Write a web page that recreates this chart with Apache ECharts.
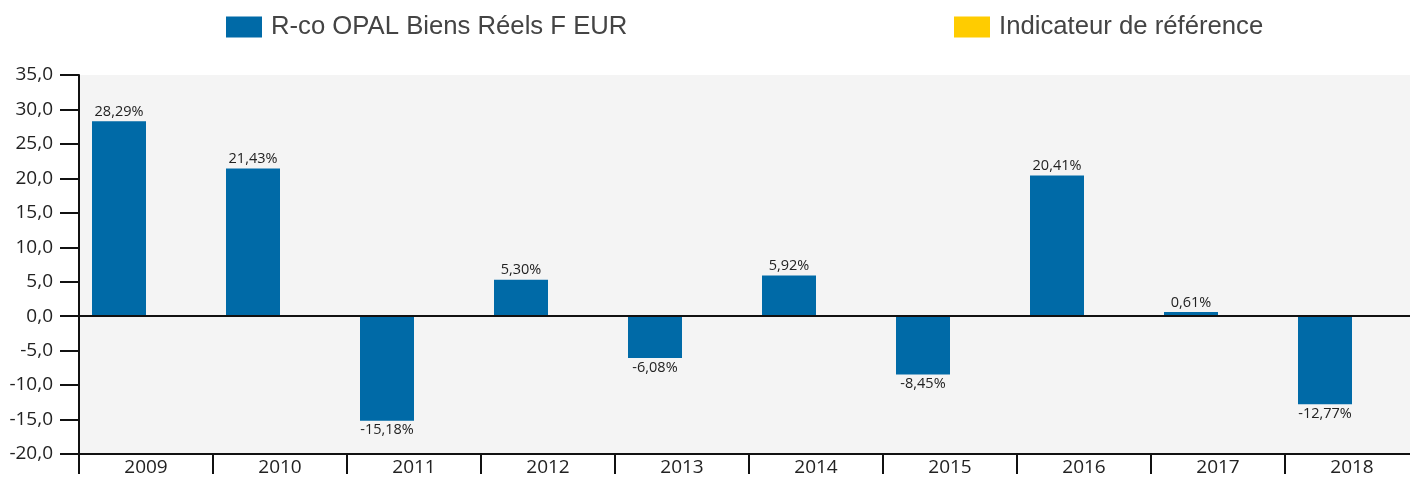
<!DOCTYPE html>
<html><head><meta charset="utf-8">
<script src="https://cdn.jsdelivr.net/npm/echarts@6/dist/echarts.min.js"></script>
<style>html,body{margin:0;padding:0;background:#fff;overflow:hidden}#c{width:1419px;height:477px}</style>
</head><body><div id="c"></div>
<script>
const categories = ['2009','2010','2011','2012','2013','2014','2015','2016','2017','2018'];
const fundValues = [28.29, 21.43, -15.18, 5.30, -6.08, 5.92, -8.45, 20.41, 0.61, -12.77];
const benchmarkValues = [null, null, null, null, null, null, null, null, null, null];
const fundName = 'R-co OPAL Biens Réels F EUR';
const benchName = 'Indicateur de référence';

const fmt = v => v.toFixed(2).replace('.', ',') + '%';
const fundData = fundValues.map(v => ({
  value: v,
  label: { position: v < 0 ? 'bottom' : 'top' }
}));

const chart = echarts.init(document.getElementById('c'));
chart.setOption({
  animation: false,
  legend: [
    { data: [fundName], left: 221, top: 9, itemWidth: 36, itemHeight: 21, icon: 'rect',
      textStyle: { fontFamily: 'Liberation Sans', fontSize: 25.7, color: '#444', padding: [0,0,0,4] } },
    { data: [benchName], left: 949, top: 9, itemWidth: 36, itemHeight: 21, icon: 'rect',
      textStyle: { fontFamily: 'Liberation Sans', fontSize: 25.7, color: '#444', padding: [0,0,0,4] } }
  ],
  grid: { left: 79, top: 75, right: 0, bottom: 22, show: true, backgroundColor: '#f4f4f4', borderWidth: 0, containLabel: false },
  xAxis: {
    type: 'category', data: categories, position: 'bottom',
    axisLine: { onZero: false, lineStyle: { color: '#111', width: 2 } },
    axisTick: { show: true, length: 20, lineStyle: { color: '#111', width: 2 } },
    axisLabel: { fontFamily: 'Open Sans', fontSize: 19, color: '#222', margin: 4 }
  },
  yAxis: {
    type: 'value', min: -20, max: 35, interval: 5,
    axisLine: { show: true, lineStyle: { color: '#111', width: 2 } },
    axisTick: { show: true, length: 19, lineStyle: { color: '#111', width: 2 } },
    splitLine: { show: false },
    axisLabel: { fontFamily: 'Open Sans', fontSize: 19, color: '#222', margin: 26,
      formatter: v => v.toFixed(1).replace('.', ',') }
  },
  series: [
    { name: fundName, type: 'bar', data: fundData, barWidth: 54, barGap: 0,
      itemStyle: { color: '#006aa7' },
      label: { show: true, distance: 2, fontFamily: 'Open Sans', fontSize: 14.5, color: '#222',
        formatter: p => fmt(p.value) },
      markLine: { silent: true, symbol: 'none', label: { show: false },
        lineStyle: { color: '#111', width: 2, type: 'solid' }, data: [{ yAxis: 0 }] }
    },
    { name: benchName, type: 'bar', data: benchmarkValues, barWidth: 54,
      itemStyle: { color: '#ffcc00' } }
  ]
});
</script></body></html>
